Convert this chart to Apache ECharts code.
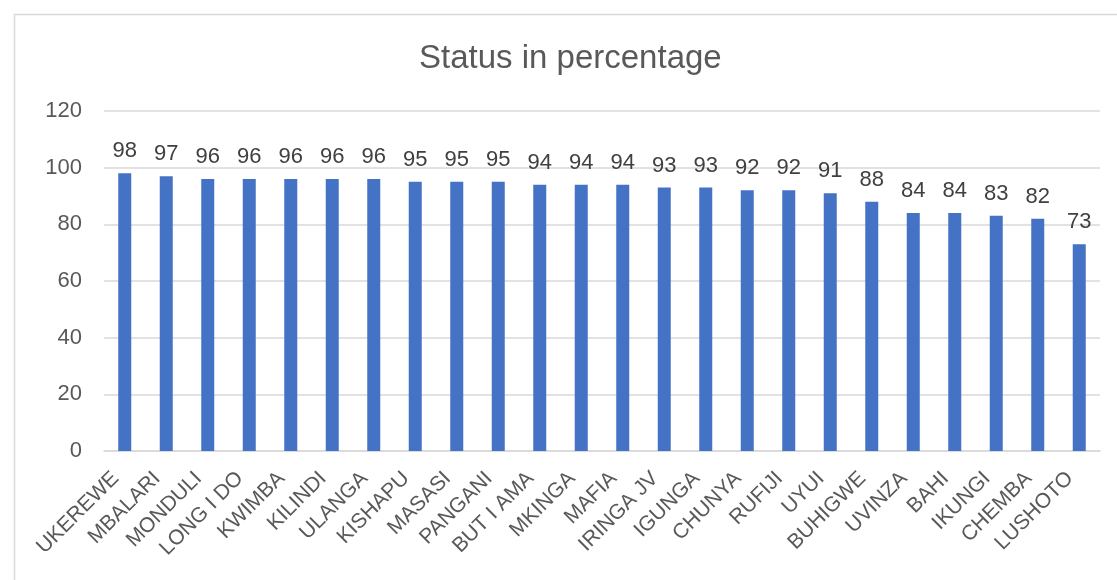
<!DOCTYPE html>
<html>
<head>
<meta charset="utf-8">
<script src="https://cdn.jsdelivr.net/npm/echarts@6/dist/echarts.min.js"></script>
<style>html,body{margin:0;padding:0;background:#fff}#c{width:1117px;height:580px}</style>
</head>
<body>
<div id="c"></div>
<script>
const categories = ["UKEREWE","MBALARI","MONDULI","LONG I DO","KWIMBA","KILINDI","ULANGA","KISHAPU","MASASI","PANGANI","BUT I AMA","MKINGA","MAFIA","IRINGA JV","IGUNGA","CHUNYA","RUFIJI","UYUI","BUHIGWE","UVINZA","BAHI","IKUNGI","CHEMBA","LUSHOTO"];
const values = [98,97,96,96,96,96,96,95,95,95,94,94,94,93,93,92,92,91,88,84,84,83,82,73];
const titleText = "Status in percentage";
const yTicks = {min: 0, max: 120, interval: 20};

const chart = echarts.init(document.getElementById('c'), null, {renderer: 'canvas'});
chart.setOption({
  animation: false,
  backgroundColor: '#fff',
  graphic: [{
    type: 'rect', left: 12, top: 12, z: -1,
    shape: {width: 1200, height: 700},
    style: {fill: 'none', stroke: '#d9d9d9', lineWidth: 1.5}
  }],
  title: {
    text: titleText, left: 414, top: 37,
    textStyle: {fontFamily: 'Liberation Sans, Arial', fontSize: 33, fontWeight: 'normal', color: '#595959'}
  },
  grid: {left: 104, right: 17, top: 111, bottom: 129, containLabel: false},
  xAxis: {
    type: 'category', data: categories,
    axisLine: {lineStyle: {color: '#d9d9d9', width: 1.5}},
    axisTick: {show: false},
    axisLabel: {interval: 0, rotate: 45, margin: 15, padding: [0, 13, 0, 0], fontFamily: 'Liberation Sans, Arial', fontSize: 21, color: '#595959'}
  },
  yAxis: {
    type: 'value', min: yTicks.min, max: yTicks.max, interval: yTicks.interval,
    axisLine: {show: false}, axisTick: {show: false},
    splitLine: {lineStyle: {color: '#d9d9d9', width: 1.5}},
    axisLabel: {margin: 22, fontFamily: 'Liberation Sans, Arial', fontSize: 22, color: '#595959'}
  },
  series: [{
    type: 'bar', data: values, barWidth: 13,
    itemStyle: {color: '#4472c4'},
    label: {show: true, position: 'top', distance: 11, fontFamily: 'Liberation Sans, Arial', fontSize: 22, color: '#404040'}
  }]
});
</script>
</body>
</html>
